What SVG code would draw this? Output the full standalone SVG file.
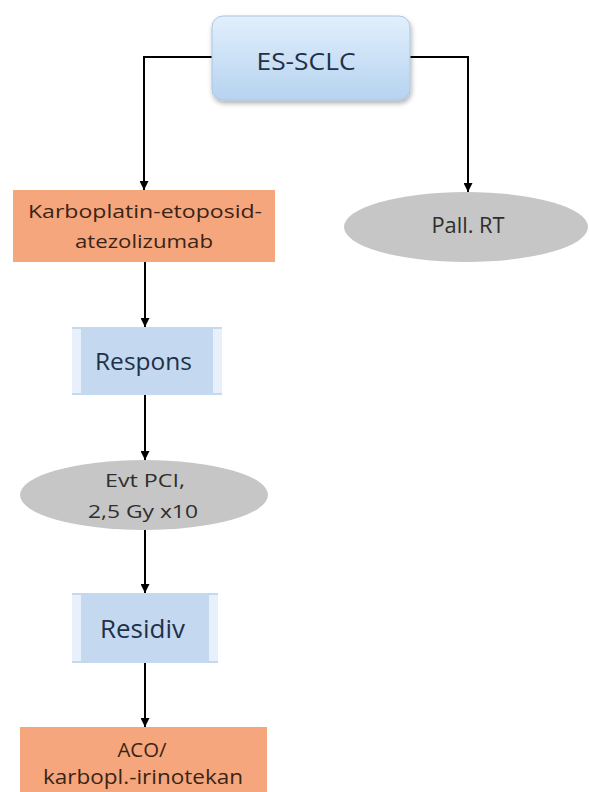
<svg xmlns="http://www.w3.org/2000/svg" width="589" height="792" viewBox="0 0 589 792">
<defs>
<style>
.conn{fill:none;stroke:#000;stroke-width:2}
text{font-family:"Open Sans","DejaVu Sans",sans-serif;text-anchor:middle}
.blue-t{fill:#1e3148}
.sal-t{fill:#3a2416}
.ell-t{fill:#2e2e2e}
.sal{fill:#f5a67c}
.ell{fill:#c6c6c6}
.bev{fill:#c4d9f0}
.bevl{fill:#e8f1fb}
</style>
<linearGradient id="topg" x1="0" y1="0" x2="0" y2="1">
<stop offset="0" stop-color="#e2effc"/>
<stop offset="1" stop-color="#b6d3f0"/>
</linearGradient>
<filter id="sh" x="-10%" y="-10%" width="125%" height="135%">
<feDropShadow dx="1" dy="3" stdDeviation="2.5" flood-color="#000" flood-opacity="0.3"/>
</filter>
<marker id="arr" viewBox="0 0 10 10" refX="10" refY="5" markerWidth="9" markerHeight="9" orient="auto" markerUnits="userSpaceOnUse">
<path d="M0,0 L10,5 L0,10 z" fill="#000"/>
</marker>
</defs>
<rect width="589" height="792" fill="#fff"/>
<g id="connectors">
<path class="conn" d="M212,57 H144 V190" marker-end="url(#arr)"/>
<path class="conn" d="M410,57 H468 V192" marker-end="url(#arr)"/>
<path class="conn" d="M145,262 V327" marker-end="url(#arr)"/>
<path class="conn" d="M145,395 V460" marker-end="url(#arr)"/>
<path class="conn" d="M145,530 V593" marker-end="url(#arr)"/>
<path class="conn" d="M145,663 V727" marker-end="url(#arr)"/>
</g>
<g id="es-sclc">
<rect x="212" y="16" width="198" height="84" rx="11" fill="url(#topg)" stroke="#a9c6e4" stroke-width="1" filter="url(#sh)"/>
<text class="blue-t" x="306" y="70" font-size="24" textLength="99" lengthAdjust="spacingAndGlyphs">ES-SCLC</text>
</g>
<g id="karboplatin">
<rect class="sal" x="13" y="190" width="262" height="72"/>
<text class="sal-t" x="145" y="218" font-size="18" textLength="234" lengthAdjust="spacingAndGlyphs">Karboplatin-etoposid-</text>
<text class="sal-t" x="144" y="248" font-size="18" textLength="138" lengthAdjust="spacingAndGlyphs">atezolizumab</text>
</g>
<g id="pall-rt">
<ellipse class="ell" cx="466" cy="227" rx="122" ry="35"/>
<text class="ell-t" x="468" y="233" font-size="21" textLength="73" lengthAdjust="spacingAndGlyphs">Pall. RT</text>
</g>
<g id="respons">
<rect class="bev" x="72" y="327" width="150" height="68"/>
<rect class="bevl" x="72" y="329" width="9" height="64"/>
<rect class="bevl" x="213" y="329" width="9" height="64"/>
<text class="blue-t" x="143.5" y="370" font-size="24" textLength="97" lengthAdjust="spacingAndGlyphs">Respons</text>
</g>
<g id="evt-pci">
<ellipse class="ell" cx="144" cy="495" rx="124" ry="35"/>
<text class="ell-t" x="145" y="487" font-size="18" textLength="80" lengthAdjust="spacingAndGlyphs">Evt PCI,</text>
<text class="ell-t" x="143" y="518" font-size="18" textLength="110" lengthAdjust="spacingAndGlyphs">2,5 Gy x10</text>
</g>
<g id="residiv">
<rect class="bev" x="72" y="593" width="146" height="70"/>
<rect class="bevl" x="72" y="595" width="9" height="66"/>
<rect class="bevl" x="209" y="595" width="9" height="66"/>
<text class="blue-t" x="142.5" y="638" font-size="25" textLength="85" lengthAdjust="spacingAndGlyphs">Residiv</text>
</g>
<g id="aco">
<rect class="sal" x="20" y="727" width="247" height="70"/>
<text class="sal-t" x="142" y="757" font-size="19.5" textLength="49" lengthAdjust="spacingAndGlyphs">ACO/</text>
<text class="sal-t" x="143" y="784" font-size="19.5" textLength="200" lengthAdjust="spacingAndGlyphs">karbopl.-irinotekan</text>
</g>
</svg>
